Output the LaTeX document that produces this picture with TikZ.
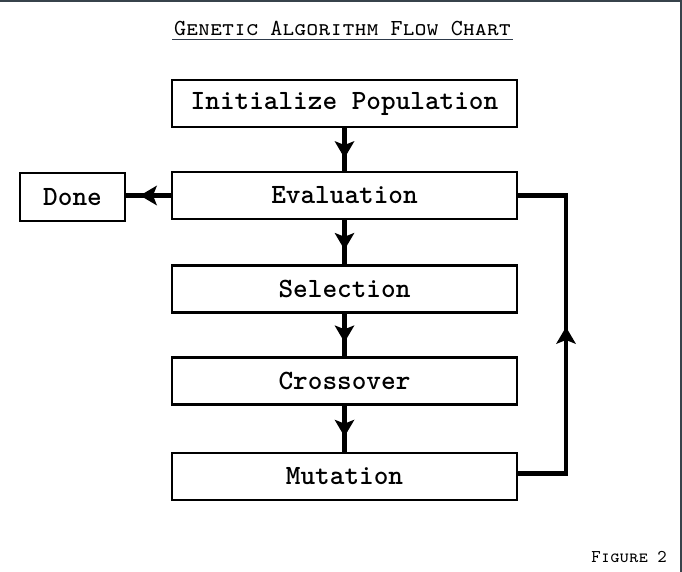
\documentclass[tikz,border=0pt]{standalone}
\usetikzlibrary{arrows.meta,decorations.markings}
\definecolor{frame}{HTML}{37434B}
\definecolor{uline}{HTML}{2E3A4A}
\tikzset{
  boxnode/.style={draw=black, line width=2.3bp, fill=white, rectangle,
    minimum width=345bp, minimum height=47bp, inner sep=0pt,
    font=\ttfamily\bfseries\fontsize{28}{30}\selectfont},
  donenode/.style={boxnode, minimum width=105bp, minimum height=48bp},
  conn/.style={draw=black, line width=4.2bp},
  midarrow/.style={postaction={decorate}, decoration={markings,
    mark=at position #1 with {\arrow{Stealth[length=17bp,width=20bp,inset=4bp,line width=0pt]}}}},
  titlenode/.style={inner sep=0pt, font=\ttfamily\scshape\fontsize{23}{25}\selectfont},
  fignode/.style={inner sep=0pt, font=\ttfamily\scshape\fontsize{18}{20}\selectfont}
}
\begin{document}
\begin{tikzpicture}[x=1bp,y=-1bp]
\useasboundingbox (0,0) rectangle (682,572);
\fill[white] (0,0) rectangle (682,572);
\fill[frame] (0,0) rectangle (682,2.5);
\fill[frame] (679.5,0) rectangle (682,572);
% title
\node[titlenode] (title) at (342.5,28) {Genetic Algorithm Flow Chart};
\coordinate (ulA) at (172,39.5);
\coordinate (ulB) at (513,39.5);
\draw[uline, line width=1.5bp] (ulA) -- (ulB);
% boxes
\node[boxnode] (init) at (344.5,103.5) {Initialize Population};
\node[boxnode] (eval) at (344.5,195.5) {Evaluation};
\node[boxnode] (sel) at (344.5,289) {Selection};
\node[boxnode] (cross) at (344.5,381) {Crossover};
\node[boxnode] (mut) at (344.5,476.5) {Mutation};
\node[donenode] (done) at (72.5,197) {Done};
% connectors
\draw[conn, midarrow=0.70] (init.south) -- (eval.north);
\draw[conn, midarrow=0.67] (eval.south) -- (sel.north);
\draw[conn, midarrow=0.67] (sel.south) -- (cross.north);
\draw[conn, midarrow=0.67] (cross.south) -- (mut.north);
\draw[conn, midarrow=0.69] (eval.west) -- (eval.west -| done.east);
\coordinate (loopx) at (566,0);
\draw[conn, midarrow=0.52] ([yshift=3bp]mut.east) -- ([yshift=3bp]mut.east -| loopx) |- (eval.east);
% figure label
\node[fignode, anchor=base east] (fig) at (667,562) {Figure 2};
\end{tikzpicture}
\end{document}
